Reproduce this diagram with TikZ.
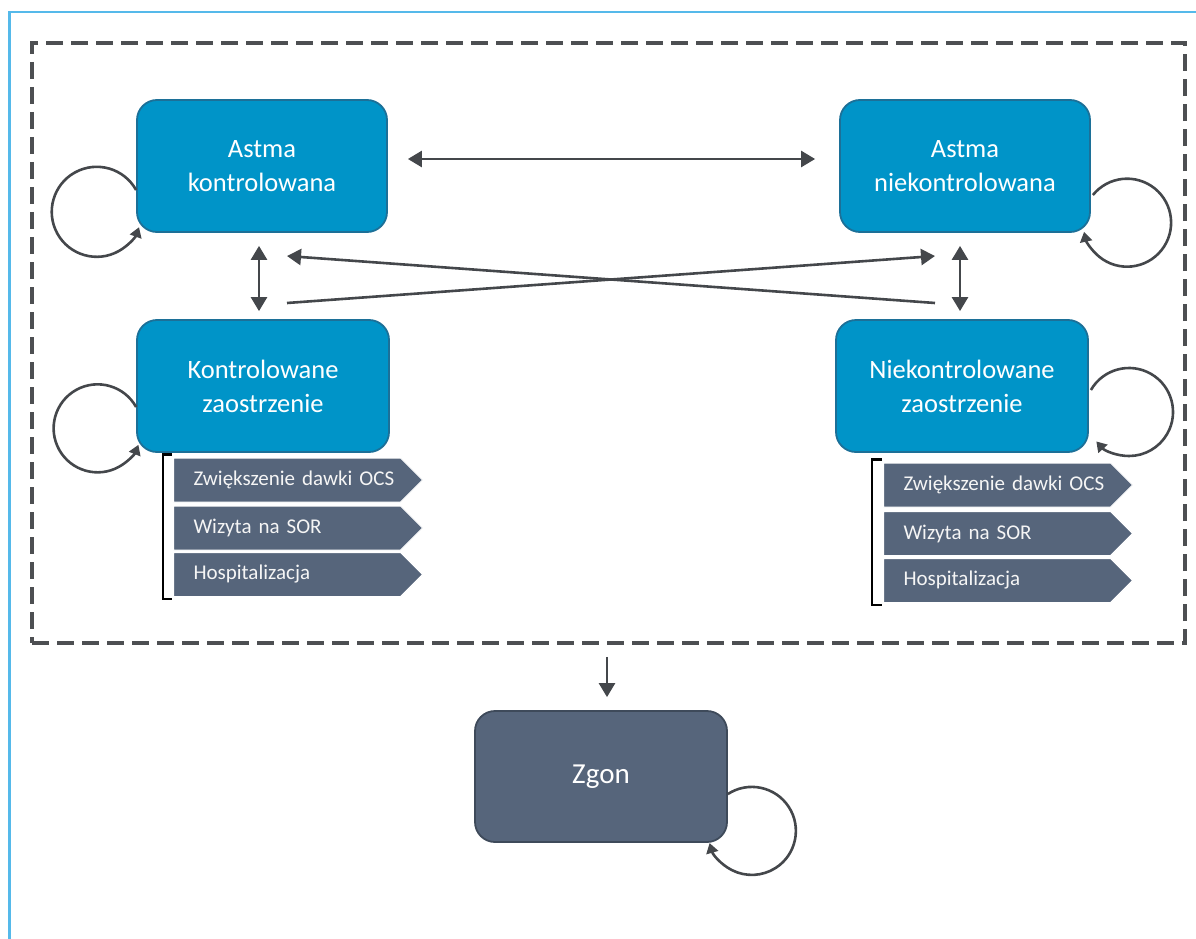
\documentclass[tikz,border=0pt]{standalone}
\usepackage{fontspec}
\setmainfont{Carlito}
\usetikzlibrary{arrows.meta,shapes.symbols,calc}
\definecolor{boxblue}{RGB}{0,148,200}
\definecolor{boxblueedge}{RGB}{28,112,152}
\definecolor{slate}{RGB}{86,101,123}
\definecolor{slateedge}{RGB}{62,74,90}
\definecolor{arrgray}{RGB}{68,71,75}
\definecolor{dashgray}{RGB}{77,79,82}
\definecolor{framecol}{RGB}{85,185,234}
\begin{document}
\begin{tikzpicture}[x=1pt,y=-1pt,
  state/.style={draw=boxblueedge, line width=1.8pt, fill=boxblue, rounded corners=20pt,
    minimum width=250pt, minimum height=132pt, text=white, align=center,
    font=\fontsize{26.5}{34}\selectfont},
  endstate/.style={state, draw=slateedge, fill=slate, minimum width=252pt, minimum height=131pt,
    font=\fontsize{29}{34}\selectfont},
  item/.style={signal, signal to=east, signal pointer angle=90, fill=slate, draw=white,
    line width=1pt, text=white!96!black, minimum height=44pt, text width=187pt,
    inner xsep=20pt, inner ysep=0pt, align=left, font=\fontsize{21}{24}\selectfont, anchor=west},
  tipA/.tip={Triangle[width=16pt,length=14pt]},
  arr/.style={draw=arrgray, line width=2.6pt, -tipA},
  darr/.style={draw=arrgray, line width=2.6pt, tipA-tipA},
  selfloop/.style={draw=arrgray, line width=2.6pt, -{Triangle[width=12pt,length=10pt]}},
  brack/.style={draw=black, line width=2.8pt}]
\useasboundingbox (0,0) rectangle (1196,939);
% outer blue frame
\draw[framecol, line width=2.5pt] (9.5,939) -- (9.5,12) -- (1196,12);
% dashed group
\node[draw=dashgray, line width=3.5pt, dash pattern=on 17pt off 8pt,
  minimum width=1153pt, minimum height=600pt, inner sep=0pt] (group) at (608.5,343) {};
% states
\node[state] (AK) at (262,166) {Astma\\kontrolowana};
\node[state] (AN) at (965,166) {Astma\\niekontrolowana};
\node[state, minimum width=252pt] (KZ) at (263,386) {Kontrolowane\\zaostrzenie};
\node[state, minimum width=252pt] (NZ) at (962,386) {Niekontrolowane\\zaostrzenie};
\node[endstate] (Z) at (601,776.5) {Zgon};
% items
\node[item] (k1) at (173,480) {\mbox{Zwiększenie dawki OCS}};
\node[item] (k2) at (173,528) {Wizyta na SOR};
\node[item] (k3) at (173,574.5) {Hospitalizacja};
\node[item] (n1) at (883,485) {\mbox{Zwiększenie dawki OCS}};
\node[item] (n2) at (883,533.5) {Wizyta na SOR};
\node[item] (n3) at (883,580.5) {Hospitalizacja};
% brackets
\draw[brack] ($(k1.north west)+(-1,-3)$) -- ($(k1.north west)+(-10,-3)$) -- ($(k3.south west)+(-10,2)$) -- ($(k3.south west)+(-1,2)$);
\draw[brack] ($(n1.north west)+(-1,-3)$) -- ($(n1.north west)+(-11,-3)$) -- ($(n3.south west)+(-11,2)$) -- ($(n3.south west)+(-1,2)$);
% connectors
\draw[darr, shorten <=20pt, shorten >=24pt] ([yshift=7pt]AK.east) -- ([yshift=7pt]AN.west);
\draw[darr, shorten <=13pt, shorten >=8pt] ([xshift=-3pt]AK.south) -- ([xshift=-3pt]AK.south |- KZ.north);
\draw[darr, shorten <=13pt, shorten >=8pt] ([xshift=-5pt]AN.south) -- ([xshift=-5pt]AN.south |- NZ.north);
\coordinate (lt) at (287,256);
\coordinate (lb) at (287,303);
\coordinate (rt) at (935,256);
\coordinate (rb) at (935,303);
\draw[arr] (rb) -- (lt);
\draw[arr] (lb) -- (rt);
\draw[arr, shorten <=12pt, shorten >=13pt] ([xshift=-1.5pt]group.south) -- ([xshift=-1.5pt]group.south |- Z.north);
% self loops
\draw[selfloop] ($(AK.west)+(0,24)$) arc[start angle=-29, end angle=-340, radius=45];
\draw[selfloop] ($(AN.east)+(2,29)$) arc[start angle=-141, end angle=168, radius=44];
\draw[selfloop] ($(KZ.west)+(0,21)$) arc[start angle=-29, end angle=-338, radius=44];
\draw[selfloop] ($(NZ.east)+(2,4)$) arc[start angle=-150, end angle=138, radius=44];
\draw[selfloop] ($(Z.east)+(0,17.5)$) arc[start angle=-123, end angle=164, radius=44];
\end{tikzpicture}
\end{document}
